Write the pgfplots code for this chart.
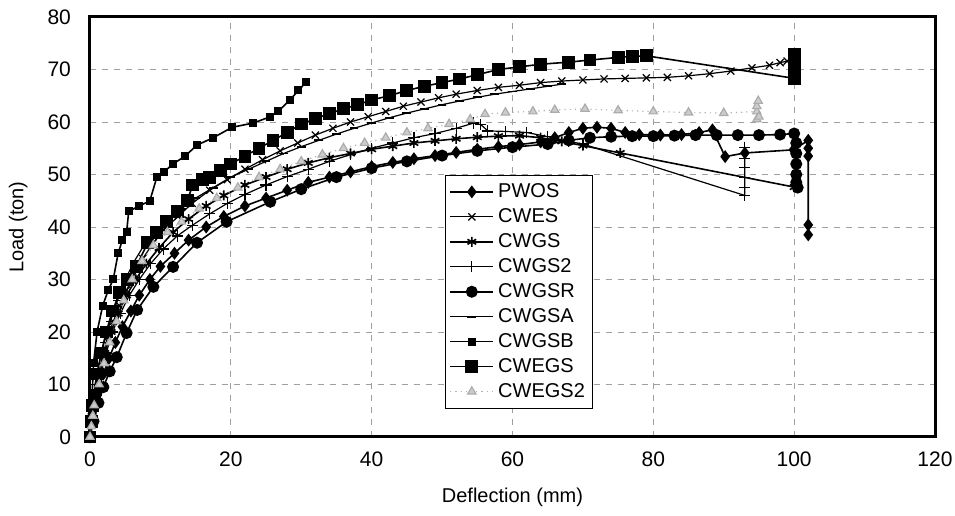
\documentclass[border=0pt]{standalone}
\usepackage{fontspec}
\setmainfont{Liberation Sans}
\usepackage{pgfplots}
\pgfplotsset{compat=1.18}
\pgfplotsset{legend image code/.code={\draw[mark repeat=2,mark phase=2,#1] plot coordinates {(0cm,0cm) (0.38cm,0cm) (0.76cm,0cm)};}}

\begin{document}
\begin{tikzpicture}
\begin{axis}[
  width=422.5pt, height=210pt, scale only axis,
  xmin=0, xmax=120, ymin=0, ymax=80,
  xtick={0,20,...,120}, ytick={0,10,...,80},
  grid=major, grid style={dash pattern=on 3pt off 3pt, gray!75, line width=0.4pt},
  axis line style={line width=1.5pt},
  major tick length=0pt,
  tick label style={font=\fontsize{10.5}{12}\selectfont},
  xticklabel style={yshift=-4pt},
  yticklabel style={xshift=-6pt},
  /pgf/number format/assume math mode=true,
  xlabel={Deflection (mm)}, ylabel={Load (ton)},
  label style={font=\fontsize{10.5}{12}\selectfont},
  every axis x label/.style={at={(axis description cs:0.5,-0.143)}, anchor=center},
  every axis y label/.style={at={(axis description cs:-0.085,0.5)}, rotate=90, anchor=center},
  legend style={at={(0.42,0.624)}, anchor=north west, font=\fontsize{10}{12}\selectfont,
    draw=black, line width=0.5pt, inner sep=2pt, row sep=0pt},
  legend cell align=left,
]
\coordinate (sw) at (rel axis cs:0,0);
\coordinate (ne) at (rel axis cs:1,1);

% PWOS
\addplot[black, solid, line width=0.8pt, mark=diamond*, mark size=2.6pt, mark options={solid, fill=black}] coordinates {
(0,0) (0.3,3) (0.7,6) (1.2,9) (1.9,12) (2.7,15) (3.6,18) (4.6,21) (5.8,24) (7,27) (8.5,30) (10,32.5) (12,35) (14,37.5) (16.5,40) (19,42) (22,44) (25,45.5) (28,47) (31,48.5) (34,49.5) (37,50.5) (40,51.5) (43,52.3) (46,53) (49,53.6) (52,54.2) (55,54.8) (58,55.3) (61,55.7) (64,56.2) (66,57) (68,58) (70,58.8) (72,59) (74,58.8) (76,58) (78,57.6) (81,57.5) (84,57.6) (86.5,58) (88.4,58.5) (90.2,53.4) (93,54.1) (99.9,54.7) (102,56.5) (102,55) (102,53.5) (102,40.4) (102,38.5)};
\addlegendentry{PWOS}

% CWES
\addplot[black, solid, line width=0.6pt, mark=x, mark size=2.5pt, mark options={solid}] coordinates {
(0,0) (0.3,4) (0.7,8) (1.2,12) (1.8,15.5) (2.5,19) (3.3,22) (4.2,25) (5.2,28) (6.3,31) (7.5,34) (9,37) (10.5,39.5) (12.5,42) (14.5,44.5) (17,47) (19.5,49) (22,51) (24.5,52.8) (27,54.5) (29.5,56) (32,57.5) (34.5,58.8) (37,60) (39.5,61) (42,62) (44.5,63) (47,63.8) (49.5,64.6) (52,65.3) (55,66) (58,66.6) (61,67) (64,67.5) (67,67.8) (70,68) (73,68.2) (76,68.3) (79,68.4) (82,68.5) (85,68.8) (88,69.2) (91,69.7) (94,70.3) (96.5,70.8) (98,71.3) (99,71.6)};
\addlegendentry{CWES}

% CWGS
\addplot[black, solid, line width=0.8pt, mark=asterisk, mark size=2.5pt, mark options={solid}] coordinates {
(0,0) (0.3,4) (0.8,8) (1.4,12) (2.1,16) (3,20) (4,23.5) (5.2,27) (6.5,30) (8,33) (9.8,36) (11.8,39) (14,41.5) (16.5,44) (19,46) (22,48) (25,49.5) (28,51) (31,52.2) (34,53.2) (37,54) (40,54.8) (43,55.4) (46,56) (49,56.4) (52,56.8) (55,57.1) (58,57.3) (61,57.4) (64,57) (67,56.3) (70,55.5) (75.3,54.1) (100,47.6)};
\addlegendentry{CWGS}

% CWGS2
\addplot[black, solid, line width=0.6pt, mark=+, mark size=2.8pt, mark options={solid}] coordinates {
(0,0) (0.4,4) (0.9,8) (1.5,12) (2.3,16) (3.2,20) (4.3,23.5) (5.6,27) (7,30) (8.6,33) (10.4,35.8) (12.4,38.3) (14.5,40.3) (17,42.5) (19.5,44.5) (22,46.2) (25,48) (28,49.6) (31,51) (34,52.5) (37,53.8) (40,55) (43,56) (46,57) (49,57.8) (52,58.8) (54.5,59.8) (55.5,59.5) (56.5,58.3) (59,58.2) (62,58) (65,57.2) (68,56.3) (70,55.8) (93,46) (93,47.5) (93,49.5) (93,51.3) (93,53) (93,55.2)};
\addlegendentry{CWGS2}

% CWGSR
\addplot[black, solid, line width=0.8pt, mark=*, mark size=2.6pt, mark options={solid, fill=black}] coordinates {
(0,0) (0.5,3) (1.2,6.5) (1.9,9.5) (2.8,12.5) (3.8,15.2) (5.2,19.8) (6.7,24.2) (9,28.6) (11.8,32.4) (15.2,37) (19.4,41) (25.6,44.8) (30,47.2) (35,49.5) (40,51.2) (45,52.5) (50,53.6) (55,54.5) (60,55.2) (65,55.8) (68,56.5) (71,57) (74,57.2) (77,57.3) (80,57.3) (83,57.4) (86,57.5) (89,57.5) (92,57.5) (95,57.5) (98,57.6) (100,57.8) (100.3,56) (100.3,54) (100.3,52) (100.3,50) (100.3,48.5) (100.5,47.5)};
\addlegendentry{CWGSR}

% CWGSA
\addplot[black, solid, line width=0.6pt, mark=-, mark size=2.2pt, mark options={solid, line width=0.9pt}] coordinates {
(0,0) (0.3,5) (0.7,10) (1.3,14) (2,18) (2.9,22) (3.9,26) (5,30) (6.3,33.5) (7.8,36.8) (9.4,39) (11,41) (13,43.5) (15,45.5) (17.5,47.5) (20,49.5) (22.5,51) (25,52.5) (27.5,54) (30,55.3) (32.5,56.5) (35,57.7) (37.5,58.8) (40,59.8) (42.5,60.8) (45,61.7) (47.5,62.5) (50,63.3) (52.5,64) (55,64.7) (57.5,65.3) (60,65.8) (62.5,66.3) (65,66.8) (67,67.2)};
\addlegendentry{CWGSA}

% CWGSB
\addplot[black, solid, line width=0.8pt, mark=square*, mark size=1.6pt, mark options={solid, fill=black}] coordinates {
(0,0) (0.1,3) (0.3,8) (0.5,14) (1,20) (1.8,25) (2.6,28) (3.3,30) (4,35) (4.6,37.5) (5.2,39) (5.5,43) (7,44) (8.5,45) (9.5,49.5) (10.5,50.5) (11.8,52) (13.5,53.5) (15.2,55.6) (17.5,57) (20.2,59) (23.2,59.8) (25.6,61) (26.7,62) (28.4,64.2) (29.6,66) (30.7,67.6)};
\addlegendentry{CWGSB}

% CWEGS
\addplot[black, solid, line width=0.8pt, mark=square*, mark size=2.8pt, mark options={solid, fill=black}] coordinates {
(0,0) (0.2,3) (0.4,6) (0.6,8) (1,12) (1.6,16) (2.3,20) (3.2,24) (4.2,27.5) (5.3,30) (6.6,32.5) (8.2,37) (9.5,39) (10.9,41) (12.4,43) (13.8,45) (14.6,48) (16,49) (17,49.5) (18.5,50.8) (20,52) (22,53.5) (24,55) (26,56.5) (28,58) (30,59.6) (32,60.6) (34,61.6) (36,62.5) (38,63.3) (40,64.2) (42.5,65) (45,66) (47.5,66.8) (50,67.5) (52.5,68.2) (55,69) (58,70) (61,70.5) (64,71) (68,71.4) (71,71.8) (75,72.3) (77,72.5) (79,72.6) (100.1,68.3) (100.1,70) (100.1,71.5) (100.1,72.8)};
\addlegendentry{CWEGS}

% CWEGS2
\addplot[gray!60, dotted, line width=0.6pt, mark=triangle*, mark size=2.4pt, mark options={solid, fill=gray!40, draw=gray!65}] coordinates {
(0,0) (0.2,2) (0.4,4) (0.6,6) (1.3,10) (2,14) (2.8,18) (3.8,22) (4.8,26) (6,30) (7.4,33.5) (9,36.5) (11,39) (13,41) (15.5,43.5) (18,45.5) (21,47.5) (24,49.5) (27,51) (30,52.5) (33,53.8) (36,55) (39,56) (42,57) (45,58) (48,58.8) (51,59.6) (54,60.5) (56.1,61.5) (59,61.8) (62.9,62) (66,62.3) (70.3,62.5) (75,62.2) (80,62) (85,61.8) (90,61.7) (94.7,62) (94.7,60.5) (94.7,63) (94.9,64) (95,61)};
\addlegendentry{CWEGS2}
\end{axis}
\pgfresetboundingbox
\path[use as bounding box] ([shift={(-45pt,-39.5pt)}]sw) rectangle ([shift={(10pt,8.5pt)}]ne);
\end{tikzpicture}
\end{document}
